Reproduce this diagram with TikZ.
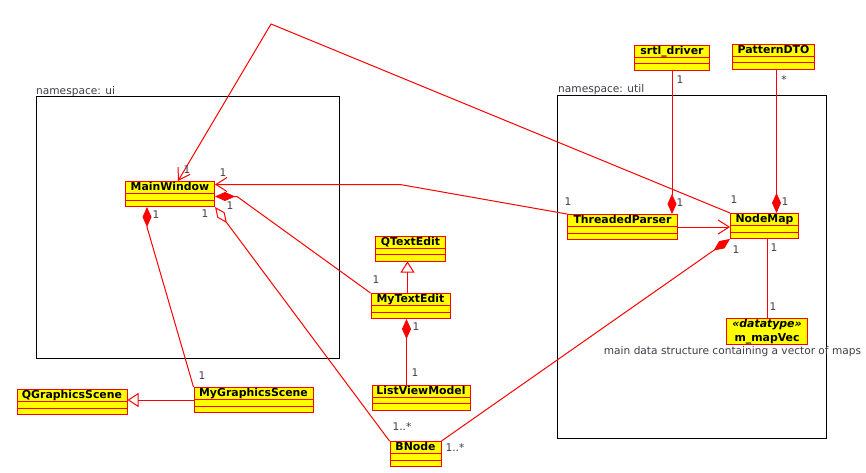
\documentclass[tikz,border=0pt]{standalone}
\usepackage{fontspec}
\setmainfont{DejaVu Sans}
\usetikzlibrary{arrows.meta,calc}
\definecolor{umlred}{RGB}{255,0,0}
\definecolor{umlyellow}{RGB}{255,255,0}
\definecolor{labelgray}{RGB}{60,60,72}
\tikzset{
  umlclass/.style={draw=umlred, fill=umlyellow, line width=1pt, inner sep=0pt,
    anchor=north west, text height=9pt, text depth=16pt,
    font=\fontsize{10.9}{13}\selectfont\bfseries},
  umlline/.style={draw=umlred, line width=1pt},
  mult/.style={text=labelgray, inner sep=0pt, font=\fontsize{10.6}{13}\selectfont},
  pkg/.style={draw=black, line width=1pt, inner sep=0pt, anchor=north west},
  navarrow/.style={-{Straight Barb[length=11pt,width=14pt]}},
  compos/.style={{Diamond[length=20pt,width=9pt]}-},
  aggreg/.style={{Diamond[open,length=20pt,width=9pt]}-},
  general/.style={-{Triangle[open,length=11pt,width=14pt]}}
}

\begin{document}
\begin{tikzpicture}[x=1pt,y=-1pt]
	\useasboundingbox (0,0) rectangle (866,473);
	% namespaces
	\node[pkg, minimum width=303pt, minimum height=262pt] (ui) at (36,96) {};
	\node[mult, anchor=base west] (uilabel) at (36,94.5) {namespace: ui};
	\node[pkg, minimum width=269pt, minimum height=343pt] (util) at (557,95) {};
	\node[mult, anchor=base west] (utillabel) at (558,92.5) {namespace: util};
	% classes
	\node[umlclass, minimum width=89pt] (MW) at (125,181) {MainWindow};
	\node[umlclass, minimum width=110pt] (TP) at (567,214) {ThreadedParser};
	\node[umlclass, minimum width=68pt] (NM) at (730,213) {NodeMap};
	\node[umlclass, minimum width=75pt] (SD) at (634,45) {srtl\_driver};
	\node[umlclass, minimum width=82pt] (PD) at (732,44) {PatternDTO};
	\node[umlclass, minimum width=70pt] (QTE) at (375,235.5) {QTextEdit};
	\node[umlclass, minimum width=79pt] (MTE) at (370.5,293) {MyTextEdit};
	\node[umlclass, minimum width=98pt] (LVM) at (371.5,384.5) {ListViewModel};
	\node[umlclass, minimum width=110pt] (QGS) at (16.5,389) {QGraphicsScene};
	\node[umlclass, minimum width=119pt] (MGS) at (193.5,387) {MyGraphicsScene};
	\node[umlclass, minimum width=51pt] (BN) at (389.5,441) {BNode};
	\foreach \c in {MW,TP,NM,SD,PD,QTE,MTE,LVM,QGS,MGS,BN}{
		\draw[umlline] ($(\c.north west)+(0,12.5)$) -- ($(\c.north east)+(0,12.5)$);
		\draw[umlline] ($(\c.north west)+(0,19)$) -- ($(\c.north east)+(0,19)$);
	}
	\node[umlclass, text height=, text depth=, align=center, minimum width=81pt,
		minimum height=26pt, font=\fontsize{10.9}{14}\selectfont\bfseries]
		(MV) at (726,318) {\textit{«datatype»}\\m\_mapVec};
	\node[mult, anchor=base] (note) at (732.5,354) {main data structure containing a vector of maps};
	% connectors
	\coordinate (bendA) at (271,24);
	\coordinate (bendB) at (400,184.5);
	\coordinate (pdfoot) at ($(PD.south)+(3,0)$);
	\coordinate (mtefoot) at ($(MTE.south)+(-4,0)$);
	\draw[umlline, navarrow] (NM.north west) -- (bendA) -- ($(MW.north west)+(53,0)$);
	\draw[umlline, navarrow] (TP.north west) -- (bendB) -- (MW.east |- bendB);
	\draw[umlline, compos] ($(MW.east)+(0,2.5)$) -- ++(22,0) -- (MTE.north west);
	\draw[umlline, compos] ($(MW.south west)+(22,0)$) -- ++(0,20) -- (MGS.north west);
	\draw[umlline, aggreg] (MW.south east) -- (BN.north west);
	\draw[umlline, compos] (NM.south west) -- (BN.north east);
	\draw[umlline, navarrow] (TP.east) -- (TP.east -| NM.west);
	\draw[umlline, compos] (SD.south |- TP.north) -- (SD.south);
	\draw[umlline, compos] (pdfoot |- NM.north) -- (pdfoot);
	\draw[umlline] (MV.north |- NM.south) -- (MV.north);
	\draw[umlline, general] ($(MTE.north)+(-3,0)$) -- ($(QTE.south)+(-3,0)$);
	\draw[umlline, compos] (mtefoot) -- (mtefoot |- LVM.north);
	\draw[umlline, general] (MGS.west) -- (MGS.west -| QGS.east);
	% multiplicities
	\foreach \px/\py/\m [count=\i] in {187/170/1, 223/173/1, 230/206/1, 205/214/1,
		156/215/1, 202/376/1, 376/280/1, 416/327/1, 415/373/1, 402/427/1..*,
		455/448/1..*, 568/202/1, 680/203/1, 680/80/1, 784/80/*, 785/202/1,
		734/200/1, 736/250/1, 774/248/1, 773/307/1}
		\node[mult] (m\i) at (\px,\py) {\m};
\end{tikzpicture}
\end{document}
